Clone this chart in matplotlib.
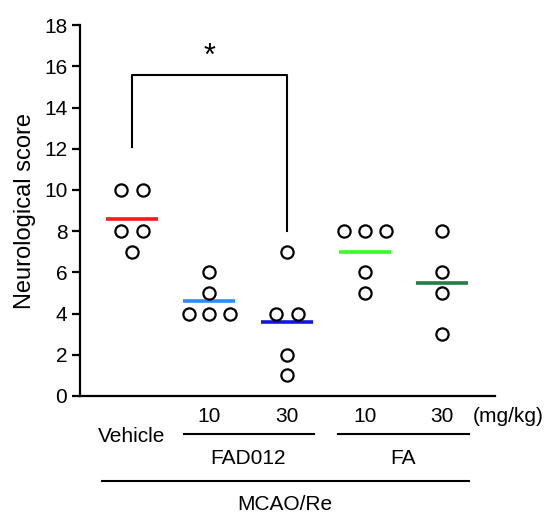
import matplotlib
matplotlib.use("Agg")
import matplotlib.pyplot as plt
import numpy as np
from matplotlib.transforms import blended_transform_factory
from matplotlib.lines import Line2D

plt.rcParams['font.family'] = ['Liberation Sans', 'DejaVu Sans']

groups = ["Vehicle", "FAD012 10", "FAD012 30", "FA 10", "FA 30"]
vehicle = [10, 10, 8, 8, 7]
fad012_10 = [6, 5, 4, 4, 4]
fad012_30 = [7, 4, 4, 2, 1]
fa_10 = [8, 8, 8, 6, 5]
fa_30 = [8, 6, 5, 3]
series = [vehicle, fad012_10, fad012_30, fa_10, fa_30]
mean_colors = ["#ff1a1a", "#2a8cff", "#1414e6", "#33ff22", "#1f7f45"]
dose_labels = ["10", "30", "10", "30"]
y_ticks = [0, 2, 4, 6, 8, 10, 12, 14, 16, 18]

fig = plt.figure(figsize=(5.47, 5.14), dpi=100)
ax = fig.add_axes([0.146, 0.2296, 0.905 - 0.146, 0.951 - 0.2296])

step = 0.27
for i, vals in enumerate(series):
    vals = np.asarray(vals, dtype=float)
    xs = np.zeros_like(vals)
    for v in np.unique(vals):
        idx = np.where(vals == v)[0]
        n = len(idx)
        s = step if n > 2 else 0.29
        offs = (np.arange(n) - (n - 1) / 2) * s
        xs[idx] = i + offs
    ax.plot(xs, vals, linestyle='none', marker='o', markersize=8.8,
            markerfacecolor='white', markeredgecolor='black', markeredgewidth=1.6,
            zorder=3)
    m = vals.mean()
    ax.plot([i - 0.335, i + 0.335], [m, m], color=mean_colors[i], lw=2.6,
            solid_capstyle='butt', zorder=2)

# significance bracket
ax.plot([0, 0, 2, 2], [12.1, 15.6, 15.6, 8.0], color='black', lw=1.5, zorder=1)
ax.text(1, 16.45, "*", ha='center', va='center', fontsize=22)

ax.set_xlim(-0.67, 4.68)
ax.set_ylim(0, 18)
ax.set_yticks(y_ticks)
ax.set_yticklabels([str(t) for t in y_ticks], fontsize=15)
ax.set_xticks([])
ax.set_ylabel("Neurological score", fontsize=17, labelpad=6)
for side in ['top', 'right']:
    ax.spines[side].set_visible(False)
for side in ['left', 'bottom']:
    ax.spines[side].set_linewidth(1.6)
ax.tick_params(axis='y', length=6, width=1.6, pad=3)

H = 514.0
def fy(py):
    return 1 - py / H

tr = blended_transform_factory(ax.transData, fig.transFigure)
fs = 15
for k, lab in enumerate(dose_labels):
    ax.text(k + 1, fy(417), lab, transform=tr, ha='center', va='center', fontsize=fs)
ax.text(0, fy(437), "Vehicle", transform=tr, ha='center', va='center', fontsize=fs)
ax.text(4.85, fy(417), "(mg/kg)", transform=tr, ha='center', va='center', fontsize=fs)
ax.text(1.5, fy(458), "FAD012", transform=tr, ha='center', va='center', fontsize=fs)
ax.text(3.5, fy(458), "FA", transform=tr, ha='center', va='center', fontsize=fs)
ax.text(1.97, fy(505), "MCAO/Re", transform=tr, ha='center', va='center', fontsize=fs)

for x0, x1, py in [(0.67, 2.35, 434), (2.66, 4.34, 434), (-0.39, 4.34, 481)]:
    fig.add_artist(Line2D([x0, x1], [fy(py), fy(py)], transform=tr, color='black',
                          lw=1.5, clip_on=False))

fig.savefig("out.png", dpi=100)
